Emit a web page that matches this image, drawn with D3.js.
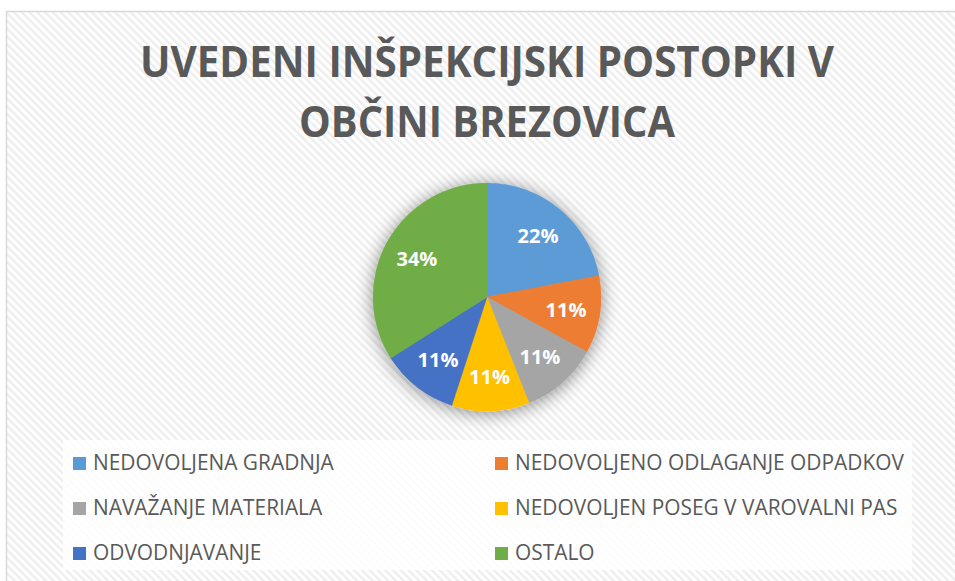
<!DOCTYPE html>
<html>
<head>
<meta charset="utf-8">
<script src="https://cdn.jsdelivr.net/npm/d3@7"></script>
<style>
    html, body { margin: 0; padding: 0; background: #fff; }
    svg { display: block; }
</style>
</head>
<body>
<svg id="chart" width="955" height="581"></svg>
<script>
// Data
const categories = [
    "NEDOVOLJENA GRADNJA",
    "NEDOVOLJENO ODLAGANJE ODPADKOV",
    "NAVAŽANJE MATERIALA",
    "NEDOVOLJEN POSEG V VAROVALNI PAS",
    "ODVODNJAVANJE",
    "OSTALO"
]
const shares = [22, 11, 11, 11, 11, 34]
const colors = ["#5B9BD5", "#ED7D31", "#A5A5A5", "#FFC000", "#4472C4", "#70AD47"]
const titleLines = ["UVEDENI INŠPEKCIJSKI POSTOPKI V", "OBČINI BREZOVICA"]

const W = 955, H = 581
const cx = 487, cy = 297, radius = 114

const svg = d3.select("#chart")
const defs = svg.append("defs")

// diagonal stripe background
const stripes = defs.append("pattern")
    .attr("id", "stripes")
    .attr("patternUnits", "userSpaceOnUse")
    .attr("width", 5.5)
    .attr("height", 5.5)
    .attr("patternTransform", "rotate(-45)")
stripes.append("rect").attr("width", 5.5).attr("height", 5.5).attr("fill", "#ffffff")
stripes.append("rect").attr("width", 2.4).attr("height", 5.5).attr("fill", "#eeeeee")

// soft shadow behind the pie
const shadow = defs.append("filter")
    .attr("id", "pie-shadow")
    .attr("x", "-50%").attr("y", "-50%")
    .attr("width", "200%").attr("height", "200%")
shadow.append("feDropShadow")
    .attr("dx", 0).attr("dy", 2)
    .attr("stdDeviation", 9)
    .attr("flood-color", "#000")
    .attr("flood-opacity", 0.45)

// chart area
svg.append("rect")
    .attr("x", 6.5).attr("y", 11.5)
    .attr("width", W).attr("height", H)
    .attr("fill", "url(#stripes)")
    .attr("stroke", "#d9d9d9")
    .attr("stroke-width", 1.5)

// title, squeezed horizontally to mimic a condensed face
const titleWidths = [694, 376]
const titleBaselines = [77, 137]
titleLines.forEach((line, i) => {
    const t = svg.append("text")
        .text(line)
        .attr("font-family", "'Open Sans', sans-serif")
        .attr("font-weight", 700)
        .attr("font-size", 43)
        .attr("fill", "#595959")
        .attr("text-anchor", "middle")
    const w = t.node().getComputedTextLength()
    const k = titleWidths[i] / w
    t.attr("transform", `translate(${cx},${titleBaselines[i]}) scale(${k},1)`)
})

// pie
const pie = d3.pie().sort(null).value(d => d)
const arcs = pie(shares)
const arc = d3.arc().innerRadius(0).outerRadius(radius)
const labelArc = d3.arc().innerRadius(80).outerRadius(80)

const pieG = svg.append("g").attr("transform", `translate(${cx},${cy})`)

pieG.append("g")
    .attr("filter", "url(#pie-shadow)")
    .selectAll("path")
    .data(arcs)
    .enter().append("path")
    .attr("d", arc)
    .attr("fill", (d, i) => colors[i])
    .attr("stroke", (d, i) => colors[i])
    .attr("stroke-width", 0.5)

pieG.selectAll(".pct")
    .data(arcs)
    .enter().append("text")
    .attr("class", "pct")
    .attr("transform", d => `translate(${labelArc.centroid(d)})`)
    .attr("dy", "0.36em")
    .attr("text-anchor", "middle")
    .attr("font-family", "'Open Sans', sans-serif")
    .attr("font-weight", 700)
    .attr("font-size", 20)
    .attr("fill", "#ffffff")
    .text(d => d.data + "%")

// legend box
svg.append("rect")
    .attr("x", 63).attr("y", 440)
    .attr("width", 849).attr("height", 130)
    .attr("fill", "#ffffff")
    .attr("fill-opacity", 0.82)

const colX = [73, 495]
const rowY = [470, 515, 560]
const legend = svg.selectAll(".legend-item")
    .data(categories)
    .enter().append("g")
    .attr("class", "legend-item")
    .attr("transform", (d, i) => `translate(${colX[i % 2]},${rowY[Math.floor(i / 2)]})`)

legend.append("rect")
    .attr("x", 0).attr("y", -13)
    .attr("width", 13).attr("height", 13)
    .attr("fill", (d, i) => colors[i])

const legendText = legend.append("text")
    .attr("font-family", "'Open Sans', sans-serif")
    .attr("font-size", 21)
    .attr("fill", "#595959")
    .text(d => d)

// squeeze legend text to the same condensed width as the reference
const longest = legendText.filter((d, i) => i === 1).node().getComputedTextLength()
const legendK = 389 / longest
legendText.attr("transform", `translate(20,0) scale(${legendK},1)`)
</script>
</body>
</html>
